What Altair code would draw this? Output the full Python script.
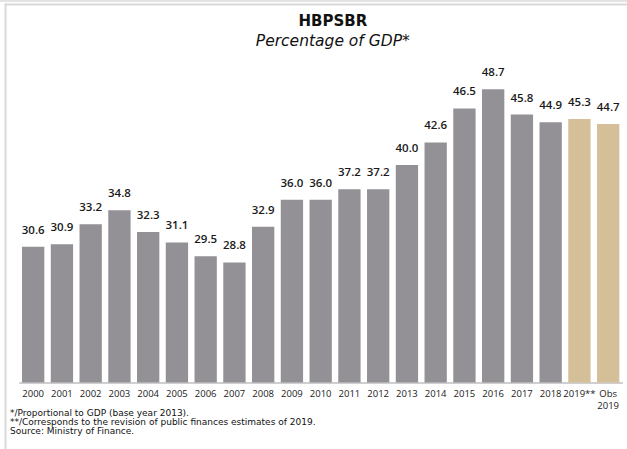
import altair as alt
import pandas as pd

years = ["2000", "2001", "2002", "2003", "2004", "2005", "2006", "2007", "2008", "2009",
         "2010", "2011", "2012", "2013", "2014", "2015", "2016", "2017", "2018",
         "2019**", "Obs 2019"]
values = [30.6, 30.9, 33.2, 34.8, 32.3, 31.1, 29.5, 28.8, 32.9, 36.0,
          36.0, 37.2, 37.2, 40.0, 42.6, 46.5, 48.7, 45.8, 44.9, 45.3, 44.7]
kinds = ["hist"] * 19 + ["est"] * 2
notes = [" */Proportional to GDP (base year 2013).",
         "**/Corresponds to the revision of public finances estimates of 2019.",
         "Source: Ministry of Finance."]
title_text = "HBPSBR"
subtitle_text = "Percentage of GDP*"

df = pd.DataFrame({"year": years, "value": values, "kind": kinds})

W = 603.75
H = 304.5
FONT = "Open Sans"

x_enc = alt.X("year:N", sort=years,
              scale=alt.Scale(paddingInner=0.224, paddingOuter=0.112),
              axis=alt.Axis(title=None, labelAngle=0, ticks=False, labelPadding=6,
                            labelFont=FONT, labelFontSize=9.5, labelColor="#1a1a1a",
                            domainColor="#cfcfcf", domainWidth=2,
                            labelExpr="datum.label == 'Obs 2019' ? ['Obs', '2019'] : datum.label"))
y_enc = alt.Y("value:Q", scale=alt.Scale(domain=[15, 50], nice=False, zero=False),
              axis=None)

base = alt.Chart(df)

bars = base.mark_bar(clip=True).encode(
    x=x_enc, y=y_enc,
    color=alt.Color("kind:N", scale=alt.Scale(domain=["hist", "est"],
                                              range=["#939196", "#d4bf99"]), legend=None),
)

labels = base.mark_text(baseline="alphabetic", dy=-13, font=FONT, fontSize=11.5,
                        fontWeight=600, color="#1a1a1a").encode(
    x=alt.X("year:N", sort=years), y=alt.Y("value:Q"),
    text=alt.Text("value:Q", format=".1f"),
)

one = pd.DataFrame({"k": [0]})
frame_top0 = alt.Chart(one).mark_rule(color="#e3e3e3", strokeWidth=2).encode(
    x=alt.value(-19), x2=alt.value(610), y=alt.value(-77))
frame_top = alt.Chart(one).mark_rule(color="#d9d9d9", strokeWidth=2).encode(
    x=alt.value(-14), x2=alt.value(610), y=alt.value(-73.5))
frame_left = alt.Chart(one).mark_rule(color="#d9d9d9", strokeWidth=2).encode(
    x=alt.value(-13.3), y=alt.value(-74.5), y2=alt.value(372))

title = alt.Chart(pd.DataFrame({"t": [title_text]})).mark_text(
    align="center", baseline="middle", font="DejaVu Sans", fontSize=15, fontWeight="bold",
    color="#111111").encode(x=alt.value(314), y=alt.value(-57.3), text="t:N")
subtitle = alt.Chart(pd.DataFrame({"t": [subtitle_text]})).mark_text(
    align="center", baseline="middle", font="DejaVu Sans", fontSize=15.5, fontStyle="italic",
    color="#111111").encode(x=alt.value(314), y=alt.value(-37), text="t:N")

foot = alt.Chart(pd.DataFrame({"t": ["\n".join(notes)]})).mark_text(
    align="left", baseline="top", font="DejaVu Sans", fontSize=9, lineHeight=9,
    color="#111111", lineBreak="\n").encode(
    x=alt.value(-8.8), y=alt.value(331), text="t:N")

chart = alt.layer(frame_top0, frame_top, frame_left, title, subtitle, bars, labels, foot).resolve_scale(
    x="shared", y="shared"
).properties(
    width=W, height=H,
    autosize=alt.AutoSizeParams(type="none"),
    padding={"left": 18.8, "top": 78, "right": 4.45, "bottom": 66.5},
).configure_view(stroke=None)

chart.save("out.html", embed_options={"renderer": "svg", "actions": False})
